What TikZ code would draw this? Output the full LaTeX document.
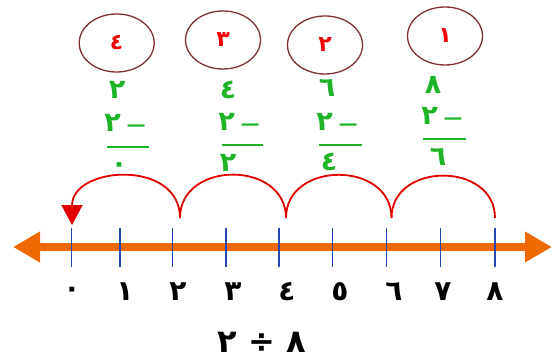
\documentclass[tikz,border=0pt]{standalone}
\usepackage{fontspec}
\usepackage{tikz}
\usetikzlibrary{arrows,arrows.meta,shapes,positioning}
\TeXXeTstate=1
\newfontfamily\arabicfont[Script=Arabic]{DejaVu Sans}
\definecolor{ringbrown}{RGB}{128,48,48}
\definecolor{numred}{RGB}{240,0,0}
\definecolor{stepgreen}{RGB}{30,180,40}
\definecolor{axisorange}{RGB}{240,105,0}
\definecolor{tickblue}{RGB}{40,70,180}
\definecolor{hopred}{RGB}{225,0,0}
\newcommand{\takeaway}{\raisebox{-3pt}{\mdseries −}\hspace{4pt}}
\tikzset{
  ring/.style={draw=ringbrown, line width=1.3pt, ellipse, minimum width=75pt, minimum height=58pt, inner sep=0pt, text=numred, font=\arabicfont\bfseries\fontsize{22}{22}\selectfont},
  stepnum/.style={inner sep=0pt, text=stepgreen, font=\arabicfont\bfseries\fontsize{27}{27}\selectfont},
  steprule/.style={draw=stepgreen, line width=1.3pt},
  axisline/.style={draw=axisorange, line width=8pt, {Triangle[length=27pt,width=29pt]}-{Triangle[length=27pt,width=29pt]}},
  tickmark/.style={draw=tickblue, line width=1.1pt},
  ticklabel/.style={inner sep=0pt, font=\arabicfont\bfseries\fontsize{28}{28}\selectfont},
  hop/.style={draw=hopred, line width=1.8pt, out=90, in=90, looseness=1.4}
}
\begin{document}
\begin{tikzpicture}[x=1pt,y=1pt]
                \useasboundingbox (0,0) rectangle (553,-363);
                % circles with the step numbers
                \node [ring] (c4) at (116.7,-43) {\beginR ٤\endR};
                \node [ring] (c3) at (223,-40) {\beginR ٣\endR};
                \node [ring] (c2) at (325,-45) {\beginR ٢\endR};
                \node [ring] (c1) at (445,-36) {\beginR ١\endR};
                % subtractions
                \node [stepnum] (k1a) at (433,-85) {\beginR ٨\endR};
                \node [stepnum] (k1b) at (443,-117) {\beginR \takeaway ٢\endR};
                \draw [steprule] (423,-139) -- (466,-139);
                \node [stepnum] (k1c) at (438,-157) {\beginR ٦\endR};
                \node [stepnum] (k2a) at (327,-88) {\beginR ٦\endR};
                \node [stepnum] (k2b) at (338,-123) {\beginR \takeaway ٢\endR};
                \draw [steprule] (319,-145) -- (362,-145);
                \node [stepnum] (k2c) at (329,-162) {\beginR ٤\endR};
                \node [stepnum] (k3a) at (228,-90) {\beginR ٤\endR};
                \node [stepnum] (k3b) at (240,-123) {\beginR \takeaway ٢\endR};
                \draw [steprule] (222,-145) -- (263,-145);
                \node [stepnum] (k3c) at (228,-163) {\beginR ٢\endR};
                \node [stepnum] (k4a) at (117,-90) {\beginR ٢\endR};
                \node [stepnum] (k4b) at (126,-124) {\beginR \takeaway ٢\endR};
                \draw [steprule] (107,-147) -- (149,-147);
                \node [stepnum] (k4c) at (119,-168) {\beginR ٠\endR};
                % number line
                \coordinate (la) at (13,-247);
                \coordinate (ra) at (552,-247);
                \draw [axisline] (la) -- (ra);
                \draw [tickmark] (71.7,-228) -- (71.7,-267);
                \draw [tickmark] (120,-228) -- (120,-267);
                \draw [tickmark] (172.5,-228) -- (172.5,-267);
                \draw [tickmark] (226,-228) -- (226,-267);
                \draw [tickmark] (279,-228) -- (279,-267);
                \draw [tickmark] (332.5,-228) -- (332.5,-267);
                \draw [tickmark] (386.7,-228) -- (386.7,-267);
                \draw [tickmark] (440.7,-228) -- (440.7,-267);
                \draw [tickmark] (495,-228) -- (495,-267);
                \node [ticklabel] (n0) at (72,-292) {\beginR ٠\endR};
                \node [ticklabel] (n1) at (125,-292) {\beginR ١\endR};
                \node [ticklabel] (n2) at (178,-292) {\beginR ٢\endR};
                \node [ticklabel] (n3) at (233,-292) {\beginR ٣\endR};
                \node [ticklabel] (n4) at (287,-292) {\beginR ٤\endR};
                \node [ticklabel] (n5) at (340,-292) {\beginR ٥\endR};
                \node [ticklabel] (n6) at (394,-292) {\beginR ٦\endR};
                \node [ticklabel] (n7) at (443,-292) {\beginR ٧\endR};
                \node [ticklabel] (n8) at (495,-292) {\beginR ٨\endR};
                % hops of two, from eight back to zero
                \coordinate (h8) at (495,-218);
                \coordinate (h6) at (391.5,-218);
                \coordinate (h4) at (286,-218);
                \coordinate (h2) at (180,-218);
                \coordinate (h0) at (72,-225);
                \draw [hop] (h8) to (h6);
                \draw [hop] (h6) to (h4);
                \draw [hop] (h4) to (h2);
                \draw [hop, -{Triangle[length=20pt,width=21pt]}] (h2) to (h0);
                % the division
                \node [ticklabel, font=\arabicfont\bfseries\fontsize{32}{32}\selectfont] (eq) at (262,-342) {\beginR ٨ ÷ ٢\endR};
\end{tikzpicture}
\end{document}
